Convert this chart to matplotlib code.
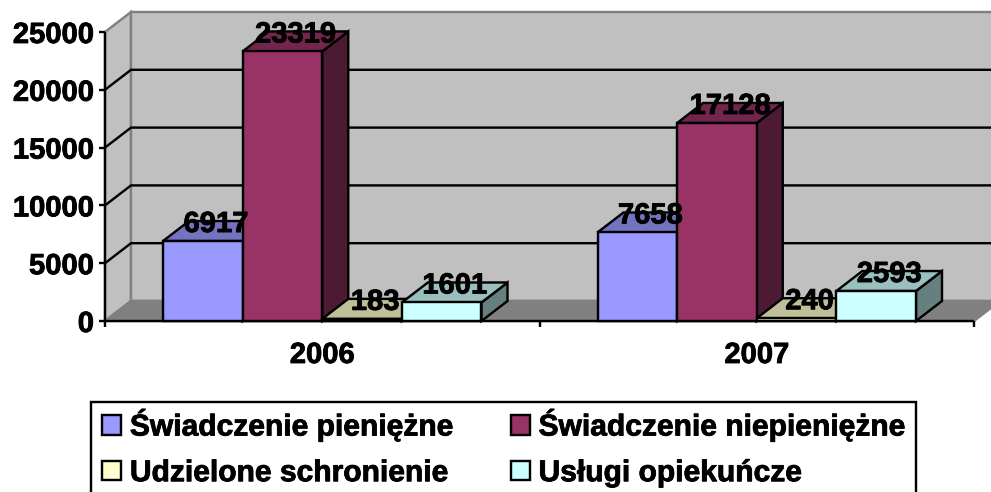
import matplotlib
matplotlib.use("Agg")
import matplotlib.pyplot as plt
from matplotlib.patches import Polygon, Patch, Rectangle
from matplotlib.lines import Line2D
from matplotlib.transforms import Affine2D, IdentityTransform
import matplotlib.patheffects as pe

plt.rcParams['font.family'] = ['Liberation Sans', 'DejaVu Sans']

categories = ['2006', '2007']
series_names = ['Świadczenie pieniężne', 'Świadczenie niepieniężne',
                'Udzielone schronienie', 'Usługi opiekuńcze']
swiadczenie_pieniezne = [6917, 7658]
swiadczenie_niepieniezne = [23319, 17128]
udzielone_schronienie = [183, 240]
uslugi_opiekuncze = [1601, 2593]
series_values = [swiadczenie_pieniezne, swiadczenie_niepieniezne,
                 udzielone_schronienie, uslugi_opiekuncze]
y_ticks = [0, 5000, 10000, 15000, 20000, 25000]

front = ['#9999FF', '#993366', '#FFFFCC', '#CCFFFF']
top = ['#7373BF', '#73264D', '#BFBF99', '#99BFBF']
side = ['#4D4D80', '#4D1A33', '#80804D', '#668080']
WALL, FLOOR = '#C0C0C0', '#808080'

W, H = 991, 492
fig = plt.figure(figsize=(W / 100, H / 100), dpi=100, facecolor='white')
L, R, B, T = 105, 974, 321, 32
ax = fig.add_axes([L / W, 1 - B / H, (R - L) / W, (B - T) / H])
ax.set_xlim(0, len(categories))
ax.set_ylim(0, 25000)
ax.patch.set_visible(False)
for s in ax.spines.values():
    s.set_visible(False)
ax.set_xticks([])
ax.set_yticks([])

DX, DY = 26, 20  # depth offset in pixels
back = ax.transData + Affine2D().translate(DX, DY)
half = ax.transData + Affine2D().translate(DX / 2, DY)
xmax = len(categories)
LW = 2.4 * 0.72
IDT = IdentityTransform()
HEAVY = [pe.withStroke(linewidth=0.6, foreground='black')]


def poly(pts_front, pts_back, **kw):
    """Polygon whose corners live on the front plane and the back plane."""
    disp = [ax.transData.transform(p) for p in pts_front] + \
           [back.transform(p) for p in pts_back]
    ax.add_patch(Polygon(disp, closed=True, transform=IDT, clip_on=False,
                         joinstyle='miter', **kw))


def seg(xs, ys, z, color='black'):
    ax.add_line(Line2D(xs, ys, transform=IDT, color=color, lw=LW, zorder=z, clip_on=False,
                       solid_joinstyle='miter', solid_capstyle='butt'))


# walls and floor
poly([(0, 0), (0, 25000)], [(0, 25000), (0, 0)], fc=WALL, ec=FLOOR, lw=LW, zorder=1)
poly([], [(0, 0), (0, 25000), (xmax, 25000), (xmax, 0)], fc=WALL, ec=FLOOR, lw=LW, zorder=1)
poly([(0, 0), (xmax, 0)], [(xmax, 0), (0, 0)], fc=FLOOR, ec=FLOOR, lw=LW, zorder=1.1)

# gridlines
for v in y_ticks[1:-1]:
    a = ax.transData.transform((0, v))
    b = back.transform((0, v))
    c = back.transform((xmax, v))
    seg([a[0], b[0], c[0]], [a[1], b[1], c[1]], 1.2)

# axes
p0 = ax.transData.transform((0, 0))
p1 = ax.transData.transform((0, 25000))
p2 = ax.transData.transform((xmax, 0))
seg([p1[0], p0[0], p2[0]], [p1[1], p0[1], p2[1]], 1.3)
FS = 21.0
for v in y_ticks:
    q = ax.transData.transform((0, v))
    seg([q[0] - 6, q[0]], [q[1], q[1]], 1.3)
    ax.text(0, v, str(v), transform=ax.transData + Affine2D().translate(-11, 0), ha='right',
            va='center_baseline', fontsize=FS, fontweight='bold', clip_on=False,
            path_effects=HEAVY)
for i in range(xmax + 1):
    q = ax.transData.transform((i, 0))
    seg([q[0], q[0]], [q[1], q[1] - 6], 1.3)
for i, c in enumerate(categories):
    ax.text(i + 0.5, 0, c, transform=ax.transData + Affine2D().translate(0, -31), ha='center',
            va='center_baseline', fontsize=FS, fontweight='bold', clip_on=False,
            path_effects=HEAVY)

# bars
gap = 58 / 434.5
bw = (1 - 2 * gap) / len(series_values)
z = 2.0
for g in range(len(categories)):
    for s, vals in enumerate(series_values):
        v = vals[g]
        x0 = g + gap + s * bw
        x1 = x0 + bw
        poly([(x1, 0), (x1, v)], [(x1, v), (x1, 0)], fc=side[s], ec='black', lw=LW, zorder=z)
        poly([(x0, v), (x1, v)], [(x1, v), (x0, v)], fc=top[s], ec='black', lw=LW, zorder=z + .01)
        poly([(x0, 0), (x0, v), (x1, v), (x1, 0)], [], fc=front[s], ec='black', lw=LW, zorder=z + .02)
        z += 0.1

# value labels
for g in range(len(categories)):
    for s, vals in enumerate(series_values):
        v = vals[g]
        x = g + gap + (s + .5) * bw
        ax.text(x, v, str(v), transform=half, ha='center', va='center_baseline',
                fontsize=FS, fontweight='bold', clip_on=False, zorder=20,
                path_effects=HEAVY)

# legend frame runs off the bottom of the figure, as in the reference
fig.add_artist(Rectangle((91 / W, -0.1), (916 - 91) / W, 0.1 + 1 - 401.5 / H, fc='white',
                         ec='black', lw=LW, transform=fig.transFigure, zorder=5))

order = [0, 2, 1, 3]  # matplotlib fills columns first, the reference reads row by row
handles = [Patch(fc=front[i], ec='black', lw=LW) for i in order]
labels = [series_names[i] for i in order]
LFS = 21.6
leg = fig.legend(handles, labels, ncol=2, loc='upper left',
                 bbox_to_anchor=(102 / W, 1 - 409 / H), bbox_transform=fig.transFigure,
                 frameon=False, borderaxespad=0, borderpad=0, handlelength=0.63,
                 handleheight=0.63, handletextpad=0.3, labelspacing=0.59, columnspacing=1.9,
                 prop={'weight': 'bold', 'size': LFS})
leg.set_zorder(6)
for t in leg.get_texts():
    t.set_path_effects(HEAVY)

fig.savefig('out.png', dpi=100)
